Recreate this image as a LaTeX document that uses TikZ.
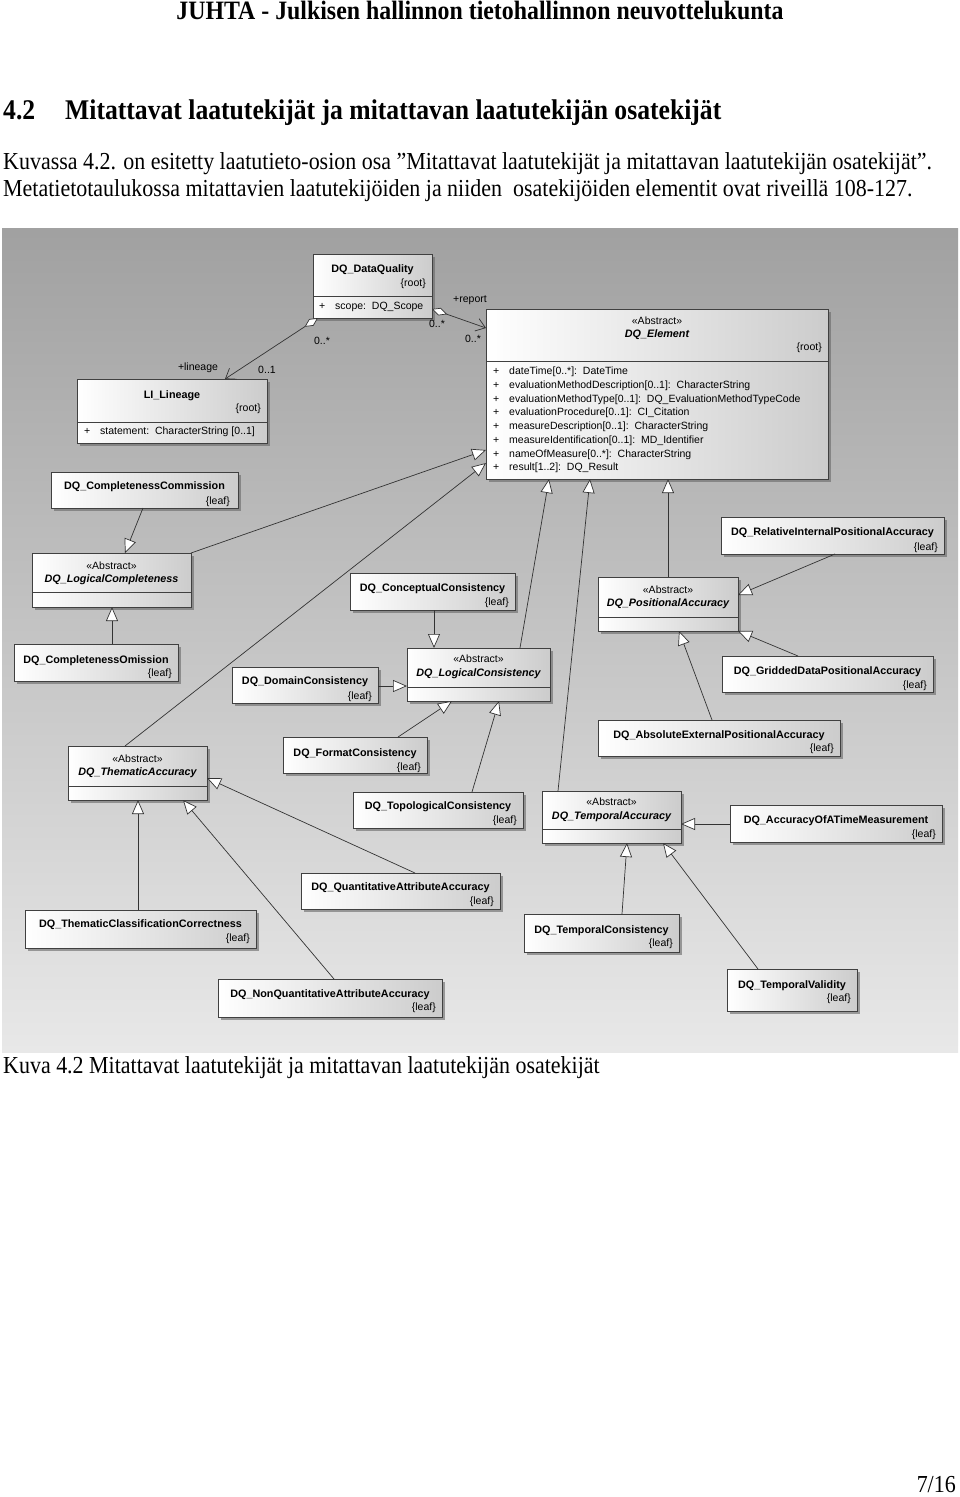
\documentclass[tikz,border=0pt]{standalone}
\usepackage{fontspec}
\setmainfont[FakeStretch=0.9]{Liberation Serif}
\newfontfamily\umlfont{Liberation Sans}
\usetikzlibrary{arrows.meta,shadows}

\begin{document}
\begin{tikzpicture}[x=1pt,y=-1pt]

\def\attrline#1{\makebox[16pt][l]{+}#1}

\tikzstyle{pagetext}=[inner sep=0pt,anchor=base west,font=\fontsize{24.4}{27}\selectfont]
\tikzstyle{umlclass}=[draw=black!75,line width=0.7pt,left color=white,right color=black!20,anchor=north west,inner sep=0pt,outer sep=0pt,drop shadow={shadow xshift=2.5pt,shadow yshift=-2.5pt,opacity=0.6,fill=black!60}]
\tikzstyle{clname}=[inner sep=0pt,anchor=mid,font=\umlfont\bfseries\fontsize{10.8}{12}\selectfont]
\tikzstyle{abname}=[clname,font=\umlfont\bfseries\itshape\fontsize{10.8}{12}\selectfont]
\tikzstyle{stereo}=[inner sep=0pt,anchor=mid,font=\umlfont\fontsize{10.5}{12}\selectfont]
\tikzstyle{umltag}=[inner xsep=6pt,inner ysep=0pt,anchor=mid east,font=\umlfont\fontsize{10.5}{12}\selectfont]
\tikzstyle{umlattr}=[inner xsep=6pt,inner ysep=0pt,anchor=mid west,align=left,font=\umlfont\fontsize{10.5}{13.7}\selectfont]
\tikzstyle{rolelabel}=[inner sep=0pt,anchor=mid,font=\umlfont\fontsize{10.5}{12}\selectfont]
\tikzstyle{compart}=[draw=black!75,line width=0.7pt]
\tikzstyle{generalization}=[draw=black!80,line width=0.7pt,-{Triangle[length=14pt,width=12pt,fill=white]}]
\tikzstyle{assoc}=[draw=black!80,line width=0.7pt,arrows={Diamond[length=16pt,width=8pt,fill=white]-Straight Barb[length=9pt,width=13pt]}]

\fill[white] (0,0) rectangle (960,1497);
\useasboundingbox (0,0) rectangle (960,1497);

%page text
\node[pagetext,anchor=base,font=\bfseries\fontsize{26.5}{30}\selectfont] (header) at (480,19) {JUHTA - Julkisen hallinnon tietohallinnon neuvottelukunta};
\node[pagetext,font=\bfseries\fontsize{28.5}{32}\selectfont] (heading) at (3,119) {\makebox[62pt][l]{4.2}Mitattavat laatutekijät ja mitattavan laatutekijän osatekijät};
\node[pagetext] (intro1) at (3,169) {Kuvassa 4.2. on esitetty laatutieto-osion osa ”Mitattavat laatutekijät ja mitattavan laatutekijän osatekijät”.};
\node[pagetext] (intro2) at (3,196) {Metatietotaulukossa mitattavien laatutekijöiden ja niiden\ \ osatekijöiden elementit ovat riveillä 108-127.};
\node[pagetext] (caption) at (3,1073) {Kuva 4.2 Mitattavat laatutekijät ja mitattavan laatutekijän osatekijät};
\node[pagetext,anchor=base east] (pagenum) at (956,1492) {7/16};

%diagram background
\shade[top color=black!37,bottom color=black!9] (2,228) rectangle (958,1052);

%root classes
\node[umlclass,minimum width=119pt,minimum height=64pt] (dq) at (313,254) {};
\node[clname] (dqname) at (dq.north |- 0,270) {DQ\_DataQuality};
\node[umltag] (dqtag) at (dq.east |- 0,284) {\{root\}};
\draw[compart] (dq.west |- 0,296) -- (dq.east |- 0,296);
\node[umlattr] (dqattr) at (dq.west |- 0,307) {\attrline{scope:\ \ DQ\_Scope}};

\node[umlclass,minimum width=342pt,minimum height=170pt] (el) at (486,309) {};
\node[stereo] (elstereo) at (el.north |- 0,322) {«Abstract»};
\node[abname] (elname) at (el.north |- 0,335) {DQ\_Element};
\node[umltag] (eltag) at (el.east |- 0,348) {\{root\}};
\draw[compart] (el.west |- 0,361) -- (el.east |- 0,361);
\node[umlattr,anchor=north west,inner xsep=7pt] (elattr) at (el.west |- 0,367) {\attrline{dateTime[0..*]:\ \ DateTime}\\
\attrline{evaluationMethodDescription[0..1]:\ \ CharacterString}\\
\attrline{evaluationMethodType[0..1]:\ \ DQ\_EvaluationMethodTypeCode}\\
\attrline{evaluationProcedure[0..1]:\ \ CI\_Citation}\\
\attrline{measureDescription[0..1]:\ \ CharacterString}\\
\attrline{measureIdentification[0..1]:\ \ MD\_Identifier}\\
\attrline{nameOfMeasure[0..*]:\ \ CharacterString}\\
\attrline{result[1..2]:\ \ DQ\_Result}};

\node[umlclass,minimum width=190pt,minimum height=64pt] (lin) at (77,379) {};
\node[clname] (linname) at (lin.north |- 0,396) {LI\_Lineage};
\node[umltag] (lintag) at (lin.east |- 0,409) {\{root\}};
\draw[compart] (lin.west |- 0,422) -- (lin.east |- 0,422);
\node[umlattr,inner xsep=7pt] (linattr) at (lin.west |- 0,432) {\attrline{statement:\ \ CharacterString [0..1]}};

%completeness
\node[umlclass,minimum width=187pt,minimum height=36pt] (ccom) at (51,472) {};
\node[clname] (ccomname) at (ccom.north |- 0,487) {DQ\_CompletenessCommission};
\node[umltag,inner xsep=8pt] (ccomtag) at (ccom.east |- 0,502) {\{leaf\}};

\node[umlclass,minimum width=159pt,minimum height=54pt] (lcomp) at (32,553) {};
\node[stereo] (lcompstereo) at (lcomp.north |- 0,567) {«Abstract»};
\node[abname] (lcompname) at (lcomp.north |- 0,580) {DQ\_LogicalCompleteness};
\draw[compart] (lcomp.west |- 0,592) -- (lcomp.east |- 0,592);

\node[umlclass,minimum width=164pt,minimum height=37pt] (comi) at (14,644) {};
\node[clname] (cominame) at (comi.north |- 0,661) {DQ\_CompletenessOmission};
\node[umltag] (comitag) at (comi.east |- 0,674) {\{leaf\}};

%logical consistency
\node[umlclass,minimum width=165pt,minimum height=37pt] (conc) at (350,573) {};
\node[clname] (concname) at (conc.north |- 0,589) {DQ\_ConceptualConsistency};
\node[umltag] (conctag) at (conc.east |- 0,603) {\{leaf\}};

\node[umlclass,minimum width=143pt,minimum height=53pt] (lcons) at (407,648) {};
\node[stereo] (lconsstereo) at (lcons.north |- 0,660) {«Abstract»};
\node[abname] (lconsname) at (lcons.north |- 0,674) {DQ\_LogicalConsistency};
\draw[compart] (lcons.west |- 0,687) -- (lcons.east |- 0,687);

\node[umlclass,minimum width=146pt,minimum height=36pt] (dom) at (232,667) {};
\node[clname] (domname) at (dom.north |- 0,682) {DQ\_DomainConsistency};
\node[umltag] (domtag) at (dom.east |- 0,697) {\{leaf\}};

\node[umlclass,minimum width=144pt,minimum height=36pt] (fmt) at (283,737) {};
\node[clname] (fmtname) at (fmt.north |- 0,754) {DQ\_FormatConsistency};
\node[umltag] (fmttag) at (fmt.east |- 0,768) {\{leaf\}};

\node[umlclass,minimum width=170pt,minimum height=36pt] (topo) at (353,792) {};
\node[clname] (toponame) at (topo.north |- 0,807) {DQ\_TopologicalConsistency};
\node[umltag] (topotag) at (topo.east |- 0,821) {\{leaf\}};

%positional accuracy
\node[umlclass,minimum width=140pt,minimum height=54pt] (pacc) at (598,577) {};
\node[stereo] (paccstereo) at (pacc.north |- 0,591) {«Abstract»};
\node[abname] (paccname) at (pacc.north |- 0,604) {DQ\_PositionalAccuracy};
\draw[compart] (pacc.west |- 0,617) -- (pacc.east |- 0,617);

\node[umlclass,minimum width=223pt,minimum height=37pt] (rel) at (721,517) {};
\node[clname] (relname) at (rel.north |- 0,533) {DQ\_RelativeInternalPositionalAccuracy};
\node[umltag] (reltag) at (rel.east |- 0,548) {\{leaf\}};

\node[umlclass,minimum width=211pt,minimum height=36pt] (grid) at (722,656) {};
\node[clname] (gridname) at (grid.north |- 0,672) {DQ\_GriddedDataPositionalAccuracy};
\node[umltag] (gridtag) at (grid.east |- 0,686) {\{leaf\}};

\node[umlclass,minimum width=242pt,minimum height=36pt] (abs) at (598,720) {};
\node[clname] (absname) at (abs.north |- 0,736) {DQ\_AbsoluteExternalPositionalAccuracy};
\node[umltag] (abstag) at (abs.east |- 0,749) {\{leaf\}};

%thematic accuracy
\node[umlclass,minimum width=139pt,minimum height=54pt] (thacc) at (68,746) {};
\node[stereo] (thaccstereo) at (thacc.north |- 0,760) {«Abstract»};
\node[abname] (thaccname) at (thacc.north |- 0,773) {DQ\_ThematicAccuracy};
\draw[compart] (thacc.west |- 0,786) -- (thacc.east |- 0,786);

\node[umlclass,minimum width=231pt,minimum height=38pt] (tcc) at (25,910) {};
\node[clname] (tccname) at (tcc.north |- 0,925) {DQ\_ThematicClassificationCorrectness};
\node[umltag] (tcctag) at (tcc.east |- 0,939) {\{leaf\}};

\node[umlclass,minimum width=224pt,minimum height=38pt] (nqa) at (218,979) {};
\node[clname] (nqaname) at (nqa.north |- 0,995) {DQ\_NonQuantitativeAttributeAccuracy};
\node[umltag] (nqatag) at (nqa.east |- 0,1008) {\{leaf\}};

\node[umlclass,minimum width=199pt,minimum height=36pt] (qa) at (301,873) {};
\node[clname] (qaname) at (qa.north |- 0,888) {DQ\_QuantitativeAttributeAccuracy};
\node[umltag] (qatag) at (qa.east |- 0,902) {\{leaf\}};

%temporal accuracy
\node[umlclass,minimum width=139pt,minimum height=52pt] (tacc) at (542,791) {};
\node[stereo] (taccstereo) at (tacc.north |- 0,803) {«Abstract»};
\node[abname] (taccname) at (tacc.north |- 0,817) {DQ\_TemporalAccuracy};
\draw[compart] (tacc.west |- 0,829) -- (tacc.east |- 0,829);

\node[umlclass,minimum width=212pt,minimum height=37pt] (atm) at (730,805) {};
\node[clname] (atmname) at (atm.north |- 0,821) {DQ\_AccuracyOfATimeMeasurement};
\node[umltag] (atmtag) at (atm.east |- 0,835) {\{leaf\}};

\node[umlclass,minimum width=155pt,minimum height=38pt] (tcons) at (524,914) {};
\node[clname] (tconsname) at (tcons.north |- 0,931) {DQ\_TemporalConsistency};
\node[umltag] (tconstag) at (tcons.east |- 0,944) {\{leaf\}};

\node[umlclass,minimum width=130pt,minimum height=42pt] (tval) at (727,969) {};
\node[clname] (tvalname) at (tval.north |- 0,986) {DQ\_TemporalValidity};
\node[umltag] (tvaltag) at (tval.east |- 0,999) {\{leaf\}};

%associations
\draw[assoc] (dq.south -| 318,0) -- (lin.north -| 225,0);
\node[rolelabel] (lincard) at (322,342) {0..*};
\node[rolelabel] (linrole) at (198,368) {+lineage};
\node[rolelabel] (linmult) at (267,371) {0..1};

\draw[assoc] (dq.east |- 0,309) -- (el.west |- 0,328);
\node[rolelabel] (reprole) at (470,300) {+report};
\node[rolelabel] (repcard) at (437,325) {0..*};
\node[rolelabel] (repmult) at (473,340) {0..*};

%generalizations
\draw[generalization] (ccom.south -| 143,0) -- (lcomp.north -| 125,0);
\draw[generalization] (comi.north -| 112,0) -- (lcomp.south -| 112,0);
\draw[generalization] (lcomp.north east) -- (el.west |- 0,450);
\draw[generalization] (thacc.north -| 125,0) -- (el.west |- 0,463);

\draw[generalization] (conc.south -| 434,0) -- (lcons.north -| 434,0);
\draw[generalization] (dom.east |- 0,686) -- (lcons.west |- 0,686);
\draw[generalization] (fmt.north -| 398,0) -- (lcons.south -| 452,0);
\draw[generalization] (topo.north -| 472,0) -- (lcons.south -| 499,0);
\draw[generalization] (lcons.north -| 520,0) -- (el.south -| 549,0);

\draw[generalization] (tacc.north -| 558,0) -- (el.south -| 590,0);
\draw[generalization] (pacc.north -| 668,0) -- (el.south -| 668,0);

\draw[generalization] (rel.south -| 835,0) -- (pacc.east |- 0,595);
\draw[generalization] (grid.north -| 798,0) -- (pacc.south east);
\draw[generalization] (abs.north -| 712,0) -- (pacc.south -| 679,0);

\draw[generalization] (atm.west |- 0,824) -- (tacc.east |- 0,824);
\draw[generalization] (tcons.north -| 622,0) -- (tacc.south -| 627,0);
\draw[generalization] (tval.north -| 758,0) -- (tacc.south -| 663,0);

\draw[generalization] (tcc.north -| 138,0) -- (thacc.south -| 138,0);
\draw[generalization] (nqa.north -| 334,0) -- (thacc.south -| 183,0);
\draw[generalization] (qa.north -| 415,0) -- (thacc.east |- 0,778);

\end{tikzpicture}
\end{document}
